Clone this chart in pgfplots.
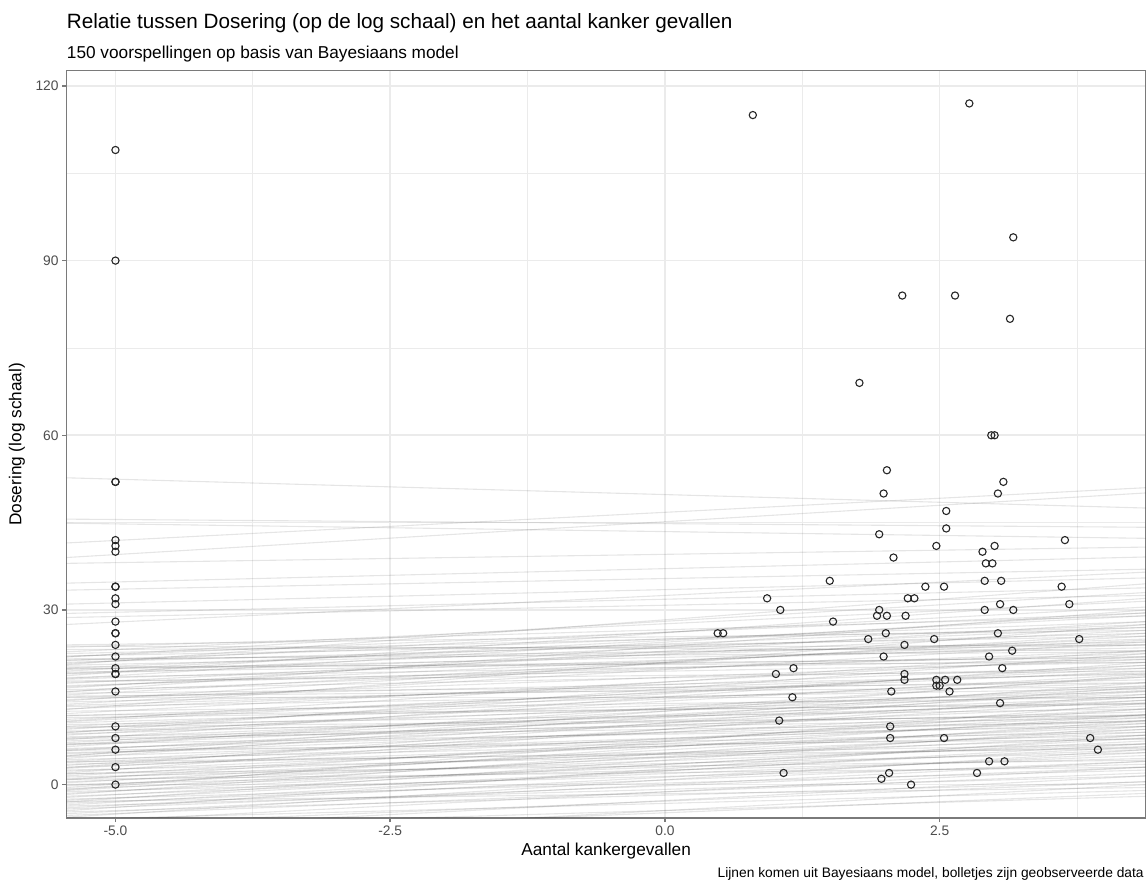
\documentclass[border=0pt]{standalone}
\usepackage{pgfplots}
\pgfplotsset{compat=1.18}
\usepackage{fontspec}
\setmainfont{Liberation Sans}
\definecolor{gray92}{HTML}{EBEBEB}
\definecolor{border}{HTML}{7A7A7A}
\definecolor{gray30}{HTML}{4D4D4D}
\pgfplotsset{ab/.style={black, opacity=0.1, line width=0.7bp, forget plot}}
\begin{document}
\begin{tikzpicture}
\useasboundingbox (0,0) rectangle (729.5bp,560.3bp);
\begin{axis}[
  at={(42.4bp,40.1bp)}, anchor=south west,
  width=686.2bp, height=475.3bp, scale only axis,
  xmin=-5.444, xmax=4.374, ymin=-5.72, ymax=122.64,
  xtick={-5,-2.5,0,2.5}, xticklabels={-5.0,-2.5,0.0,2.5},
  ytick={0,30,60,90,120},
  minor xtick={-3.75,-1.25,1.25,3.75}, minor ytick={15,45,75,105},
  grid=both,
  major grid style={color=gray92, line width=1.07bp},
  minor grid style={color=gray92, line width=0.53bp},
  axis line style={color=border, line width=0.9bp},
  tick align=outside, tick pos=left,
  major tick length=2.75bp, minor tick length=0pt,
  major tick style={color=border, line width=0.9bp},
  /pgf/number format/assume math mode=true,
  scaled ticks=false,
  xticklabel style={font=\fontsize{8.8}{10}\selectfont, text=gray30, inner sep=0pt, yshift=-2.2bp},
  yticklabel style={font=\fontsize{8.8}{10}\selectfont, text=gray30, inner sep=0pt, xshift=-2.2bp},
]
\addplot[ab] coordinates {(-5.45,52.7)(4.38,47.5)};
\addplot[ab] coordinates {(-5.45,45.6)(4.38,44.2)};
\addplot[ab] coordinates {(-5.45,44.9)(4.38,42.3)};
\addplot[ab] coordinates {(-5.45,41.5)(4.38,51.0)};
\addplot[ab] coordinates {(-5.45,39.0)(4.38,50.1)};
\addplot[ab] coordinates {(-5.45,38.0)(4.38,40.8)};
\addplot[ab] coordinates {(-5.45,34.6)(4.38,39.1)};
\addplot[ab] coordinates {(-5.45,33.4)(4.38,37.0)};
\addplot[ab] coordinates {(-5.45,31.0)(4.38,35.5)};
\addplot[ab] coordinates {(-5.45,29.4)(4.38,33.8)};
\addplot[ab] coordinates {(-5.45,28.7)(4.38,32.5)};
\addplot[ab] coordinates {(-5.45,27.5)(4.38,36.5)};
\addplot[ab] coordinates {(-5.45,24.0)(4.38,26.5)};
\addplot[ab] coordinates {(-5.45,23.6)(4.38,29.0)};
\addplot[ab] coordinates {(-5.45,23.2)(4.38,24.0)};
\addplot[ab] coordinates {(-5.45,22.8)(4.38,31.5)};
\addplot[ab] coordinates {(-5.45,22.5)(4.38,27.0)};
\addplot[ab] coordinates {(-5.45,22.1)(4.38,25.5)};
\addplot[ab] coordinates {(-5.45,21.9)(4.38,33.0)};
\addplot[ab] coordinates {(-5.45,21.6)(4.38,22.8)};
\addplot[ab] coordinates {(-5.45,21.3)(4.38,28.0)};
\addplot[ab] coordinates {(-5.45,21.0)(4.38,26.0)};
\addplot[ab] coordinates {(-5.45,20.8)(4.38,30.5)};
\addplot[ab] coordinates {(-5.45,20.5)(4.38,24.5)};
\addplot[ab] coordinates {(-5.45,20.2)(4.38,21.0)};
\addplot[ab] coordinates {(-5.45,20.0)(4.38,27.5)};
\addplot[ab] coordinates {(-5.45,19.8)(4.38,23.5)};
\addplot[ab] coordinates {(-5.45,19.5)(4.38,29.0)};
\addplot[ab] coordinates {(-5.45,19.3)(4.38,22.0)};
\addplot[ab] coordinates {(-5.45,19.0)(4.38,25.0)};
\addplot[ab] coordinates {(-5.45,18.7)(4.38,32.0)};
\addplot[ab] coordinates {(-5.45,18.4)(4.38,21.5)};
\addplot[ab] coordinates {(-5.45,18.1)(4.38,24.0)};
\addplot[ab] coordinates {(-5.45,17.8)(4.38,19.5)};
\addplot[ab] coordinates {(-5.45,17.4)(4.38,26.5)};
\addplot[ab] coordinates {(-5.45,17.0)(4.38,22.5)};
\addplot[ab] coordinates {(-5.45,16.6)(4.38,28.0)};
\addplot[ab] coordinates {(-5.45,16.3)(4.38,20.0)};
\addplot[ab] coordinates {(-5.45,16.0)(4.38,23.0)};
\addplot[ab] coordinates {(-5.45,15.7)(4.38,17.5)};
\addplot[ab] coordinates {(-5.45,15.4)(4.38,25.5)};
\addplot[ab] coordinates {(-5.45,15.0)(4.38,19.0)};
\addplot[ab] coordinates {(-5.45,14.6)(4.38,21.5)};
\addplot[ab] coordinates {(-5.45,14.2)(4.38,18.0)};
\addplot[ab] coordinates {(-5.45,13.8)(4.38,24.5)};
\addplot[ab] coordinates {(-5.45,13.4)(4.38,16.5)};
\addplot[ab] coordinates {(-5.45,13.0)(4.38,20.5)};
\addplot[ab] coordinates {(-5.45,12.6)(4.38,15.0)};
\addplot[ab] coordinates {(-5.45,12.2)(4.38,22.0)};
\addplot[ab] coordinates {(-5.45,11.8)(4.38,17.5)};
\addplot[ab] coordinates {(-5.45,11.5)(4.38,14.0)};
\addplot[ab] coordinates {(-5.45,11.2)(4.38,19.5)};
\addplot[ab] coordinates {(-5.45,10.9)(4.38,23.0)};
\addplot[ab] coordinates {(-5.45,10.6)(4.38,16.0)};
\addplot[ab] coordinates {(-5.45,10.3)(4.38,13.0)};
\addplot[ab] coordinates {(-5.45,10.0)(4.38,18.5)};
\addplot[ab] coordinates {(-5.45,9.7)(4.38,15.5)};
\addplot[ab] coordinates {(-5.45,9.5)(4.38,20.5)};
\addplot[ab] coordinates {(-5.45,9.2)(4.38,12.0)};
\addplot[ab] coordinates {(-5.45,9.0)(4.38,16.5)};
\addplot[ab] coordinates {(-5.45,8.7)(4.38,14.0)};
\addplot[ab] coordinates {(-5.45,8.5)(4.38,19.0)};
\addplot[ab] coordinates {(-5.45,8.2)(4.38,11.5)};
\addplot[ab] coordinates {(-5.45,8.0)(4.38,15.0)};
\addplot[ab] coordinates {(-5.45,7.7)(4.38,21.0)};
\addplot[ab] coordinates {(-5.45,7.5)(4.38,12.5)};
\addplot[ab] coordinates {(-5.45,7.2)(4.38,17.0)};
\addplot[ab] coordinates {(-5.45,7.0)(4.38,10.0)};
\addplot[ab] coordinates {(-5.45,6.8)(4.38,14.5)};
\addplot[ab] coordinates {(-5.45,6.5)(4.38,18.5)};
\addplot[ab] coordinates {(-5.45,6.2)(4.38,11.0)};
\addplot[ab] coordinates {(-5.45,6.0)(4.38,13.5)};
\addplot[ab] coordinates {(-5.45,5.8)(4.38,16.0)};
\addplot[ab] coordinates {(-5.45,5.5)(4.38,9.0)};
\addplot[ab] coordinates {(-5.45,5.3)(4.38,12.0)};
\addplot[ab] coordinates {(-5.45,5.0)(4.38,15.0)};
\addplot[ab] coordinates {(-5.45,4.8)(4.38,10.5)};
\addplot[ab] coordinates {(-5.45,4.5)(4.38,17.5)};
\addplot[ab] coordinates {(-5.45,4.3)(4.38,8.5)};
\addplot[ab] coordinates {(-5.45,4.0)(4.38,13.0)};
\addplot[ab] coordinates {(-5.45,3.8)(4.38,11.0)};
\addplot[ab] coordinates {(-5.45,3.5)(4.38,7.0)};
\addplot[ab] coordinates {(-5.45,3.3)(4.38,14.5)};
\addplot[ab] coordinates {(-5.45,3.0)(4.38,9.5)};
\addplot[ab] coordinates {(-5.45,2.8)(4.38,12.0)};
\addplot[ab] coordinates {(-5.45,2.5)(4.38,6.5)};
\addplot[ab] coordinates {(-5.45,2.3)(4.38,10.0)};
\addplot[ab] coordinates {(-5.45,2.0)(4.38,15.5)};
\addplot[ab] coordinates {(-5.45,1.8)(4.38,8.0)};
\addplot[ab] coordinates {(-5.45,1.5)(4.38,11.5)};
\addplot[ab] coordinates {(-5.45,1.3)(4.38,5.5)};
\addplot[ab] coordinates {(-5.45,1.0)(4.38,9.0)};
\addplot[ab] coordinates {(-5.45,0.8)(4.38,13.0)};
\addplot[ab] coordinates {(-5.45,0.5)(4.38,7.0)};
\addplot[ab] coordinates {(-5.45,0.3)(4.38,10.5)};
\addplot[ab] coordinates {(-5.45,0.0)(4.38,4.5)};
\addplot[ab] coordinates {(-5.45,-0.2)(4.38,8.5)};
\addplot[ab] coordinates {(-5.45,-0.5)(4.38,12.0)};
\addplot[ab] coordinates {(-5.45,-0.7)(4.38,6.0)};
\addplot[ab] coordinates {(-5.45,-1.0)(4.38,9.5)};
\addplot[ab] coordinates {(-5.45,-1.2)(4.38,3.5)};
\addplot[ab] coordinates {(-5.45,-1.5)(4.38,7.5)};
\addplot[ab] coordinates {(-5.45,-1.7)(4.38,11.0)};
\addplot[ab] coordinates {(-5.45,-2.0)(4.38,5.0)};
\addplot[ab] coordinates {(-5.45,-2.2)(4.38,8.0)};
\addplot[ab] coordinates {(-5.45,-2.5)(4.38,2.5)};
\addplot[ab] coordinates {(-5.45,-2.7)(4.38,6.5)};
\addplot[ab] coordinates {(-5.45,-3.0)(4.38,10.0)};
\addplot[ab] coordinates {(-5.45,-3.2)(4.38,4.0)};
\addplot[ab] coordinates {(-5.45,-3.5)(4.38,7.0)};
\addplot[ab] coordinates {(-5.45,-3.7)(4.38,1.5)};
\addplot[ab] coordinates {(-5.45,-4.0)(4.38,5.5)};
\addplot[ab] coordinates {(-5.45,-4.2)(4.38,3.0)};
\addplot[ab] coordinates {(-5.45,-4.5)(4.38,8.5)};
\addplot[ab] coordinates {(-5.45,-4.7)(4.38,0.5)};
\addplot[ab] coordinates {(-5.45,-5.0)(4.38,4.0)};
\addplot[ab] coordinates {(-5.45,-5.3)(4.38,2.0)};
\addplot[ab] coordinates {(-5.45,-5.6)(4.38,6.0)};
\addplot[ab] coordinates {(-5.45,-6.0)(4.38,-1.0)};
\addplot[ab] coordinates {(-5.45,-6.5)(4.38,3.0)};
\addplot[ab] coordinates {(-5.45,-7.0)(4.38,0.5)};
\addplot[ab] coordinates {(-5.45,-7.5)(4.38,-2.0)};
\addplot[ab] coordinates {(-5.45,-8.0)(4.38,1.5)};
\addplot[ab] coordinates {(-5.45,-9.0)(4.38,-1.5)};
\addplot[ab] coordinates {(-5.45,-10.0)(4.38,0.0)};
\addplot[ab] coordinates {(-5.45,23.8)(4.38,23.0)};
\addplot[ab] coordinates {(-5.45,22.0)(4.38,29.5)};
\addplot[ab] coordinates {(-5.45,21.4)(4.38,24.0)};
\addplot[ab] coordinates {(-5.45,20.6)(4.38,34.5)};
\addplot[ab] coordinates {(-5.45,19.9)(4.38,21.8)};
\addplot[ab] coordinates {(-5.45,19.1)(4.38,27.0)};
\addplot[ab] coordinates {(-5.45,18.2)(4.38,29.5)};
\addplot[ab] coordinates {(-5.45,17.6)(4.38,21.0)};
\addplot[ab] coordinates {(-5.45,16.8)(4.38,24.8)};
\addplot[ab] coordinates {(-5.45,15.9)(4.38,30.0)};
\addplot[ab] coordinates {(-5.45,15.2)(4.38,16.8)};
\addplot[ab] coordinates {(-5.45,14.4)(4.38,26.0)};
\addplot[ab] coordinates {(-5.45,13.6)(4.38,19.2)};
\addplot[ab] coordinates {(-5.45,12.9)(4.38,27.5)};
\addplot[ab] coordinates {(-5.45,11.9)(4.38,13.8)};
\addplot[ab] coordinates {(-5.45,10.8)(4.38,20.0)};
\addplot[ab] coordinates {(-5.45,9.9)(4.38,11.8)};
\addplot[ab] coordinates {(-5.45,8.9)(4.38,22.5)};
\addplot[ab] coordinates {(-5.45,7.9)(4.38,10.8)};
\addplot[ab] coordinates {(-5.45,6.9)(4.38,16.2)};
\addplot[ab] coordinates {(-5.45,5.9)(4.38,7.8)};
\addplot[ab] coordinates {(-5.45,4.9)(4.38,18.8)};
\addplot[ab] coordinates {(-5.45,3.9)(4.38,6.2)};
\addplot[ab] coordinates {(-5.45,2.9)(4.38,16.8)};
\addplot[ab] coordinates {(-5.45,1.9)(4.38,4.2)};
\addplot[ab] coordinates {(-5.45,0.9)(4.38,3.0)};
\addplot[ab] coordinates {(-5.45,-0.9)(4.38,14.0)};
\addplot[ab] coordinates {(-5.45,-2.9)(4.38,-0.5)};
\addplot[only marks, mark=o, mark size=2.3bp, mark options={line width=0.7bp, draw=black!85}] table[row sep=\\] {
x y\\
-5 109\\ -5 90\\ -5 52\\ -5 52\\ -5 42\\ -5 41\\ -5 40\\ -5 34\\ -5 34\\ -5 32\\
-5 31\\ -5 28\\ -5 26\\ -5 26\\ -5 24\\ -5 22\\ -5 20\\ -5 19\\ -5 19\\ -5 16\\
-5 10\\ -5 8\\ -5 6\\ -5 3\\ -5 0\\
0.80 115\\ 2.77 117\\ 2.16 84\\ 2.64 84\\ 1.77 69\\ 3.17 94\\ 3.14 80\\ 2.97 60\\ 3.00 60\\
2.02 54\\ 1.99 50\\ 1.95 43\\ 2.08 39\\ 1.50 35\\ 2.37 34\\ 2.21 32\\ 2.27 32\\ 0.93 32\\
1.05 30\\ 1.95 30\\ 1.93 29\\ 2.02 29\\ 2.19 29\\ 1.53 28\\ 0.48 26\\ 0.53 26\\ 2.01 26\\ 1.85 25\\
2.18 24\\ 1.99 22\\ 1.01 19\\ 1.17 20\\ 2.18 19\\ 2.18 18\\ 2.06 16\\ 1.16 15\\ 1.04 11\\
2.05 10\\ 2.05 8\\ 1.08 2\\ 2.04 2\\ 1.97 1\\ 2.24 0\\
3.08 52\\ 3.03 50\\ 2.56 47\\ 2.56 44\\ 2.47 41\\ 3.00 41\\ 3.64 42\\ 2.89 40\\ 2.92 38\\ 2.98 38\\
2.91 35\\ 3.06 35\\ 3.61 34\\ 2.54 34\\ 3.05 31\\ 3.68 31\\ 2.91 30\\ 3.17 30\\ 3.03 26\\ 2.45 25\\ 3.77 25\\
3.16 23\\ 2.95 22\\ 3.07 20\\ 2.47 18\\ 2.55 18\\ 2.66 18\\ 2.47 17\\ 2.50 17\\ 2.59 16\\ 3.05 14\\
2.54 8\\ 3.87 8\\ 3.94 6\\ 2.95 4\\ 3.09 4\\ 2.84 2\\
};
\end{axis}
\node[anchor=base west, inner sep=0pt, font=\fontsize{13.2}{15}\selectfont] at (42.4bp,542.2bp) {Relatie tussen Dosering (op de log schaal) en het aantal kanker gevallen};
\node[anchor=base west, inner sep=0pt, font=\fontsize{11}{13}\selectfont] at (42.4bp,523.4bp) {150 voorspellingen op basis van Bayesiaans model};
\node[anchor=center, rotate=90, inner sep=0pt, font=\fontsize{11}{13}\selectfont] at (10.8bp,277.7bp) {Dosering (log schaal)};
\node[anchor=base, inner sep=0pt, font=\fontsize{11}{13}\selectfont] at (385.5bp,15.9bp) {Aantal kankergevallen};
\node[anchor=base east, inner sep=0pt, font=\fontsize{8.8}{10}\selectfont] at (727.6bp,2.5bp) {Lijnen komen uit Bayesiaans model, bolletjes zijn geobserveerde data};
\end{tikzpicture}
\end{document}
